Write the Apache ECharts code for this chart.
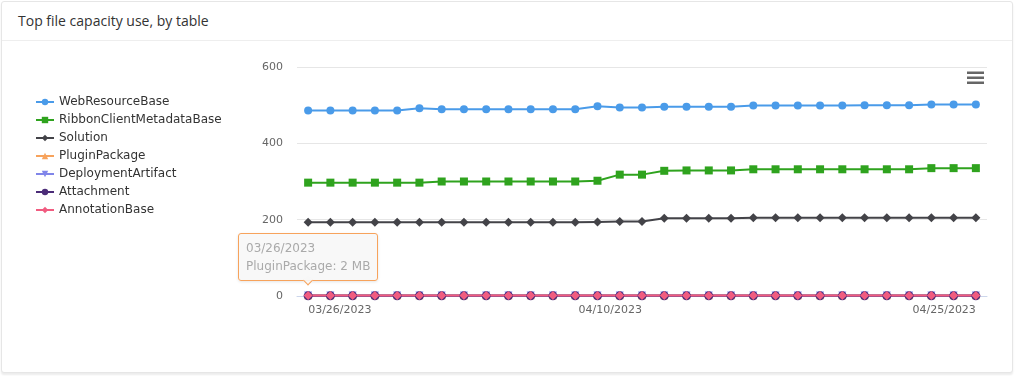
<!DOCTYPE html>
<html>
<head>
<meta charset="utf-8">
<script src="https://cdn.jsdelivr.net/npm/echarts@6/dist/echarts.min.js"></script>
<style>
    html, body {
        margin: 0;
        padding: 0;
        background: #fff;
    }
    .card {
        position: absolute;
        left: 1px;
        top: 1px;
        width: 1010px;
        height: 370px;
        border: 1px solid #e6e6e6;
        border-radius: 3px;
        box-shadow: 0 2px 2px rgba(0, 0, 0, 0.08);
        background: #fff;
    }
    .card-title {
        height: 38px;
        line-height: 38px;
        padding-left: 16px;
        border-bottom: 1px solid #eeeeee;
        font-family: "Open Sans", sans-serif;
        font-size: 14px;
        color: #333;
    }
    #chart {
        position: absolute;
        left: 0;
        top: 0;
        width: 1015px;
        height: 376px;
    }
</style>
</head>
<body>
<div class="card"><div class="card-title">Top file capacity use, by table</div></div>
<div id="chart"></div>
<script>
const dates = [
    "03/26/2023", "03/27/2023", "03/28/2023", "03/29/2023", "03/30/2023", "03/31/2023",
    "04/01/2023", "04/02/2023", "04/03/2023", "04/04/2023", "04/05/2023", "04/06/2023",
    "04/07/2023", "04/08/2023", "04/09/2023", "04/10/2023", "04/11/2023", "04/12/2023",
    "04/13/2023", "04/14/2023", "04/15/2023", "04/16/2023", "04/17/2023", "04/18/2023",
    "04/19/2023", "04/20/2023", "04/21/2023", "04/22/2023", "04/23/2023", "04/24/2023",
    "04/25/2023",
]

const webResourceBase = [486, 486, 486, 486, 486, 492, 489, 489, 489, 489, 489, 489, 489, 497, 494, 494,
    496, 496, 496, 496, 499, 499, 499, 499, 499, 500, 500, 500, 502, 502, 502]
const ribbonClientMetadataBase = [297, 297, 297, 297, 297, 297, 300, 300, 300, 300, 300, 300, 300, 302, 318, 318,
    328, 329, 329, 329, 332, 332, 332, 332, 332, 332, 332, 332, 335, 335, 335]
const solution = [193, 193, 193, 193, 193, 193, 193, 193, 193, 193, 193, 193, 193, 194, 195, 195,
    204, 204, 204, 204, 205, 205, 205, 205, 205, 205, 205, 205, 205, 205, 205]
const pluginPackage = new Array(31).fill(2)
const deploymentArtifact = new Array(31).fill(1)
const attachment = new Array(31).fill(0.5)
const annotationBase = new Array(31).fill(1)

const yTicks = { min: 0, max: 600, interval: 200 }

const seriesDefs = [
    { name: "WebResourceBase", data: webResourceBase, color: "#4a9be9", symbol: "circle", size: 8 },
    { name: "RibbonClientMetadataBase", data: ribbonClientMetadataBase, color: "#2fa31e", symbol: "rect", size: 8 },
    { name: "Solution", data: solution, color: "#434348", symbol: "diamond", size: 9 },
    { name: "PluginPackage", data: pluginPackage, color: "#f7a35c", symbol: "triangle", size: 8 },
    { name: "DeploymentArtifact", data: deploymentArtifact, color: "#8085e9", symbol: "path://M0,0L10,0L5,10Z", size: 8 },
    { name: "Attachment", data: attachment, color: "#4b2c78", symbol: "circle", size: 9 },
    { name: "AnnotationBase", data: annotationBase, color: "#f15c80", symbol: "diamond", size: 9 },
]

const font = "DejaVu Sans"
const chart = echarts.init(document.getElementById("chart"))

const option = {
    animation: false,
    textStyle: { fontFamily: font },
    legend: {
        orient: "vertical",
        left: 30,
        top: 91,
        itemWidth: 18,
        itemHeight: 8,
        itemGap: 6,
        textStyle: { fontFamily: font, fontSize: 12, color: "#333" },
        data: seriesDefs.map(s => s.name),
    },
    grid: {
        left: 297,
        right: 28,
        top: 67,
        bottom: 80,
    },
    tooltip: {
        trigger: "item",
        position: "top",
        alwaysShowContent: true,
        transitionDuration: 0,
        backgroundColor: "rgba(247,247,247,0.9)",
        borderColor: "#f7a35c",
        borderWidth: 1,
        padding: [5, 7],
        textStyle: { fontFamily: font, fontSize: 12, color: "#aaa" },
        extraCssText: "box-shadow:0 1px 3px rgba(0,0,0,0.1);border-radius:3px;line-height:18px;",
        formatter: p => p.name + "<br/>" + p.seriesName + ": " + p.value + " MB",
    },
    xAxis: {
        type: "category",
        data: dates,
        boundaryGap: true,
        axisLine: { lineStyle: { color: "#ccd6eb", width: 1 } },
        axisTick: {
            alignWithLabel: true,
            interval: 0,
            length: 10,
            lineStyle: { color: "#ccd6eb" },
        },
        axisLabel: {
            interval: 14,
            align: "right",
            alignMinLabel: "left",
            margin: 9,
            color: "#666",
            fontSize: 11,
            fontFamily: font,
        },
    },
    yAxis: {
        type: "value",
        min: yTicks.min,
        max: yTicks.max,
        interval: yTicks.interval,
        axisLine: { show: false },
        axisTick: { show: false },
        axisLabel: { color: "#666", fontSize: 11, margin: 14, fontFamily: font },
        splitLine: { lineStyle: { color: "#e6e6e6" } },
    },
    graphic: [
        { type: "rect", right: 31, top: 71.5, shape: { width: 17, height: 2.5 }, style: { fill: "#666" } },
        { type: "rect", right: 31, top: 76.5, shape: { width: 17, height: 2.5 }, style: { fill: "#666" } },
        { type: "rect", right: 31, top: 81.5, shape: { width: 17, height: 2.5 }, style: { fill: "#666" } },
    ],
    series: seriesDefs.map(s => ({
        name: s.name,
        type: "line",
        data: s.data,
        symbol: s.symbol,
        symbolSize: s.size,
        showAllSymbol: true,
        color: s.color,
        lineStyle: { width: 2, color: s.color },
        itemStyle: { color: s.color },
        emphasis: { disabled: true },
    })),
}

chart.setOption(option)
chart.dispatchAction({ type: "showTip", seriesIndex: 3, dataIndex: 0 })
</script>
</body>
</html>
